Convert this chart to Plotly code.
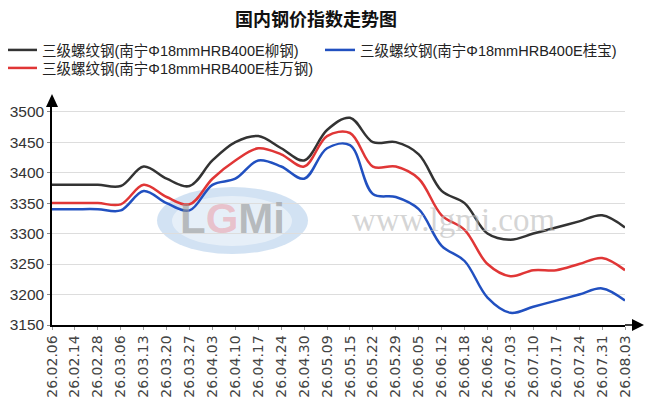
import plotly.graph_objects as go

# dates (yy.mm.dd)
dates = ["26.02.06", "26.02.14", "26.02.28", "26.03.06", "26.03.13", "26.03.20",
         "26.03.27", "26.04.03", "26.04.10", "26.04.17", "26.04.24", "26.04.30",
         "26.05.09", "26.05.15", "26.05.22", "26.05.29", "26.06.05", "26.06.12",
         "26.06.18", "26.06.26", "26.07.03", "26.07.10", "26.07.17", "26.07.24",
         "26.07.31", "26.08.03"]

liugang = [3380, 3380, 3380, 3378, 3410, 3390, 3378, 3420, 3450, 3460, 3440, 3420,
           3470, 3490, 3450, 3450, 3430, 3370, 3350, 3300, 3290, 3300, 3310, 3320,
           3330, 3310]
guibao = [3340, 3340, 3340, 3338, 3370, 3350, 3338, 3380, 3390, 3420, 3410, 3390,
          3440, 3445, 3365, 3360, 3340, 3280, 3255, 3195, 3170, 3180, 3190, 3200,
          3210, 3190]
guiwan = [3350, 3350, 3350, 3348, 3380, 3360, 3348, 3390, 3420, 3440, 3430, 3410,
          3460, 3465, 3410, 3410, 3390, 3330, 3306, 3250, 3230, 3240, 3240, 3250,
          3260, 3240]

names = ["三级螺纹钢(南宁Φ18mmHRB400E柳钢)",
         "三级螺纹钢(南宁Φ18mmHRB400E桂宝)",
         "三级螺纹钢(南宁Φ18mmHRB400E桂万钢)"]
colors = ["#333333", "#2150c0", "#e03636"]
legend_of = ["legend", "legend2", "legend3"]

# page body adds an 8px margin, so the figure is drawn 8px smaller and shifted
OFF = 8
W, H = 655 - OFF, 402 - OFF
L, R, T, B = 52 - OFF, W - (625 - OFF), 100 - OFF, H - (325 - OFF)
pw, ph = W - L - R, H - T - B

# helpers: screen pixel -> paper / container fraction
def px_x(x):
    return (x - OFF - L) / pw

def px_y(y):
    return (H - B - (y - OFF)) / ph

def cx(x):
    return (x - OFF) / W

def cy(y):
    return 1 - (y - OFF) / H

fig = go.Figure()
for name, vals, col, lg in zip(names, [liugang, guibao, guiwan], colors, legend_of):
    fig.add_trace(go.Scatter(x=dates, y=vals, name=name, mode="lines", legend=lg,
                             line=dict(color=col, width=2.5, shape="spline", smoothing=1.0)))

# axis arrows
fig.add_shape(type="line", xref="paper", yref="paper", x0=1, x1=px_x(633), y0=0, y1=0,
              line=dict(color="black", width=1.5))
fig.add_shape(type="path", xref="paper", yref="paper",
              path=f"M {px_x(632)} {px_y(319)} L {px_x(644)} 0 L {px_x(632)} {px_y(331)} Z",
              fillcolor="black", line=dict(color="black", width=0))
fig.add_shape(type="path", xref="paper", yref="paper",
              path=f"M {px_x(46)} {px_y(107)} L {px_x(52)} {px_y(94)} L {px_x(58)} {px_y(107)} Z",
              fillcolor="black", line=dict(color="black", width=0))
fig.add_shape(type="line", xref="paper", yref="paper", x0=0, x1=0, y0=1, y1=px_y(106),
              line=dict(color="black", width=1.5))

# watermark
fig.add_shape(type="circle", xref="paper", yref="paper", layer="below",
              x0=px_x(157), x1=px_x(308), y0=px_y(254), y1=px_y(187),
              fillcolor="rgba(165,198,232,0.5)", line=dict(width=0))
fig.add_shape(type="circle", xref="paper", yref="paper", layer="below",
              x0=px_x(172), x1=px_x(292), y0=px_y(246), y1=px_y(196),
              fillcolor="rgba(255,255,255,0.45)", line=dict(width=0))
fig.add_annotation(text="<b>L<span style='color:rgba(235,130,140,0.7)'>G</span>Mi</b>",
                   xref="paper", yref="paper", x=px_x(232), y=px_y(218), xanchor="center", yanchor="middle",
                   showarrow=False, font=dict(family="Liberation Sans", size=42, color="rgba(150,150,150,0.6)"))
fig.add_annotation(text="www.lgmi.com", xref="paper", yref="paper", x=px_x(454), y=px_y(220),
                   xanchor="center", yanchor="middle", showarrow=False,
                   font=dict(family="Liberation Serif", size=33, color="rgba(185,185,185,0.6)"))

legend_font = dict(size=14.5, color="#222222", family="Liberation Sans, Noto Sans CJK SC")

def legend_box(x, y):
    return dict(orientation="v", xref="paper", yref="paper", x=px_x(x), y=px_y(y),
                xanchor="left", yanchor="top", font=legend_font, itemwidth=30,
                tracegroupgap=0, bgcolor="rgba(0,0,0,0)")

fig.update_layout(
    width=W, height=H,
    margin=dict(l=L, r=R, t=T, b=B, autoexpand=False),
    paper_bgcolor="white", plot_bgcolor="white",
    font=dict(family="Liberation Sans, Noto Sans CJK SC", size=13, color="#333333"),
    title=dict(text="<b>国内钢价指数走势图</b>", x=cx(316), xref="container", xanchor="center",
               y=cy(19.5), yanchor="middle",
               font=dict(size=18, color="#111111", family="Noto Sans CJK SC")),
    showlegend=True,
    legend=legend_box(2, 34),
    legend2=legend_box(320, 34),
    legend3=legend_box(2, 52),
)
fig.update_xaxes(range=[0, len(dates) - 1], showgrid=False, showline=True, linecolor="black",
                 linewidth=1.5, ticks="outside", ticklen=3, tickcolor="#999999", tickangle=-90,
                 tickfont=dict(size=14, color="#444444", family="DejaVu Sans"),
                 zeroline=False)
fig.update_yaxes(range=[3150, 3150 + ph / 0.6095], tickvals=[3150, 3200, 3250, 3300, 3350, 3400, 3450, 3500],
                 showgrid=True, gridcolor="#dddddd", gridwidth=1, showline=True, linecolor="black",
                 linewidth=1.5, ticks="outside", ticklen=3, tickcolor="#888888",
                 tickfont=dict(size=15.5, color="#333333"), zeroline=False)

fig.write_html("out.html")
